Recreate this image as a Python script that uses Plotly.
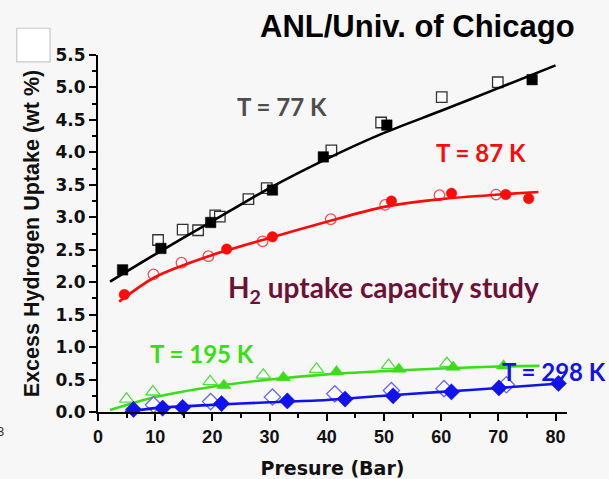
import plotly.graph_objects as go

# ---------------- data ----------------
# 77 K
p77_open = [10.5, 14.8, 17.5, 20.5, 21.3, 26.3, 29.5, 40.8, 49.5, 60.1, 69.9]
u77_open = [2.65, 2.81, 2.80, 3.03, 3.01, 3.28, 3.45, 4.03, 4.46, 4.85, 5.08]
p77_fill = [4.3, 11.0, 19.7, 30.5, 39.4, 50.5, 75.9]
u77_fill = [2.19, 2.52, 2.92, 3.42, 3.93, 4.42, 5.12]
p77_fit = [2.1, 10, 20, 30, 40, 50, 60, 70, 80]
u77_fit = [2.01, 2.43, 2.94, 3.45, 3.90, 4.30, 4.64, 4.99, 5.34]

# 87 K
p87_open = [9.7, 14.6, 19.3, 28.8, 40.7, 50.2, 59.7, 69.6]
u87_open = [2.12, 2.30, 2.40, 2.63, 2.97, 3.19, 3.34, 3.35]
p87_fill = [4.6, 22.5, 30.5, 51.3, 61.8, 71.3, 75.3]
u87_fill = [1.81, 2.51, 2.70, 3.25, 3.37, 3.35, 3.29]
p87_fit = [3.7, 10, 20, 30, 40, 50, 60, 70, 77]
u87_fit = [1.70, 2.08, 2.42, 2.68, 2.93, 3.16, 3.28, 3.35, 3.39]

# 195 K
p195_open = [5.0, 9.6, 19.6, 28.9, 38.2, 50.8, 61.0]
u195_open = [0.20, 0.31, 0.47, 0.57, 0.66, 0.72, 0.75]
p195_fill = [22.0, 32.4, 41.7, 52.6, 62.1, 70.9]
u195_fill = [0.41, 0.53, 0.62, 0.66, 0.69, 0.71]
p195_fit = [2.1, 10, 20, 30, 40, 50, 60, 70, 77.2]
u195_fit = [0.03, 0.23, 0.39, 0.50, 0.58, 0.63, 0.67, 0.70, 0.71]

# 298 K
p298_open = [9.7, 19.7, 30.5, 41.4, 51.3, 60.5, 71.4]
u298_open = [0.11, 0.16, 0.23, 0.28, 0.33, 0.36, 0.42]
p298_fill = [6.2, 11.3, 14.8, 21.6, 33.1, 43.2, 51.6, 61.8, 70.1, 80.5]
u298_fill = [0.04, 0.06, 0.07, 0.13, 0.17, 0.20, 0.25, 0.31, 0.37, 0.44]
p298_fit = [4.7, 10, 20, 30, 40, 50, 60, 70, 80.8]
u298_fit = [0.00, 0.06, 0.11, 0.15, 0.185, 0.25, 0.31, 0.37, 0.44]

x_ticks = [0, 10, 20, 30, 40, 50, 60, 70, 80]
y_ticks = [0.0, 0.5, 1.0, 1.5, 2.0, 2.5, 3.0, 3.5, 4.0, 4.5, 5.0, 5.5]

# ---------------- styles ----------------
BLACK = "#000000"
RED = "#ff0a0a"
GREEN = "#38de16"
BLUE = "#1212ee"
MAROON = "#6d1236"
BG = "#f7f7f7"

fig = go.Figure()


def add_series(px_open, u_open, px_fill, u_fill, px_fit, u_fit, color, open_border,
               open_sym, fill_sym, size):
    fig.add_trace(go.Scatter(
        x=px_open, y=u_open, mode="markers", showlegend=False, cliponaxis=False,
        marker=dict(symbol=open_sym, size=size, color="white",
                    line=dict(color=open_border, width=1.3))))
    fig.add_trace(go.Scatter(
        x=px_fit, y=u_fit, mode="lines", showlegend=False, cliponaxis=False,
        line=dict(color=color, width=2.6, shape="spline", smoothing=0.8)))
    fig.add_trace(go.Scatter(
        x=px_fill, y=u_fill, mode="markers", showlegend=False, cliponaxis=False,
        marker=dict(symbol=fill_sym, size=size, color=color,
                    line=dict(color=color, width=0.5))))


add_series(p77_open, u77_open, p77_fill, u77_fill, p77_fit, u77_fit,
           BLACK, "#333333", "square", "square", 10.5)
add_series(p87_open, u87_open, p87_fill, u87_fill, p87_fit, u87_fit,
           RED, "#ff4a4a", "circle", "circle", 10.5)
add_series(p195_open, u195_open, p195_fill, u195_fill, p195_fit, u195_fit,
           GREEN, "#55dd44", "triangle-up", "triangle-up", 12.5)
add_series(p298_open, u298_open, p298_fill, u298_fill, p298_fit, u298_fit,
           BLUE, "#6666ff", "diamond", "diamond", 12.5)

label_font = "Lato, 'Open Sans', sans-serif"
annotations = [
    dict(x=32.2, y=4.70, text="<b>T = 77 K</b>", font=dict(family=label_font, size=24, color="#4d4d4d")),
    dict(x=66.9, y=4.00, text="<b>T = 87 K</b>", font=dict(family=label_font, size=24, color=RED)),
    dict(x=50.0, y=1.90, text="<b>H<sub>2</sub> uptake capacity study</b>",
         font=dict(family=label_font, size=28, color=MAROON)),
    dict(x=18.1, y=0.90, text="<b>T = 195 K</b>", font=dict(family=label_font, size=24, color=GREEN)),
    dict(x=79.65, y=0.62, text="<b>T = 298 K</b>", font=dict(family=label_font, size=24, color=BLUE)),
]
for a in annotations:
    a.update(xref="x", yref="y", showarrow=False, xanchor="center", yanchor="middle")

annotations.append(dict(
    xref="paper", yref="paper", x=0.6805, y=1.080, xanchor="center", yanchor="middle",
    text="<b>ANL/Univ. of Chicago</b>", showarrow=False,
    font=dict(family="'Liberation Sans', Arial, sans-serif", size=31, color="black")))
annotations.append(dict(
    xref="paper", yref="paper", x=-0.2087, y=-0.056, xanchor="center", yanchor="middle",
    text="3", showarrow=False,
    font=dict(family="'Liberation Sans', Arial, sans-serif", size=13, color="#333333")))

fig.update_layout(
    width=609, height=479,
    margin=dict(l=98, r=41.5, t=55, b=67, autoexpand=False),
    paper_bgcolor=BG, plot_bgcolor=BG,
    annotations=annotations,
    shapes=[dict(type="rect", xref="paper", yref="paper",
                 x0=-0.1732, x1=-0.1022, y0=0.981, y1=1.075,
                 fillcolor="white", line=dict(color="#c8c8c8", width=1.2))],
)

fig.update_xaxes(
    range=[0, 82], showgrid=False, zeroline=False, automargin=False,
    showline=True, linecolor="black", linewidth=2,
    tickmode="array", tickvals=x_ticks, ticktext=[str(v) for v in x_ticks],
    ticks="outside", ticklen=7, tickwidth=2, tickcolor="black",
    minor=dict(ticks="outside", ticklen=4, tickwidth=1.5, dtick=5, tick0=0, tickcolor="black"),
    tickfont=dict(family="'Liberation Sans', Arial, sans-serif", size=18, color="#111111", weight="bold"),
    title=dict(text="<b>Presure (Bar)</b>", standoff=18,
               font=dict(family="'DejaVu Sans', sans-serif", size=19, color="#111111")),
)
fig.update_yaxes(
    range=[0, 5.5], showgrid=False, zeroline=False, automargin=False,
    showline=True, linecolor="black", linewidth=2,
    tickmode="array", tickvals=y_ticks, ticktext=[f"{v:.1f}" for v in y_ticks],
    ticks="outside", ticklen=7, tickwidth=2, tickcolor="black",
    minor=dict(ticks="outside", ticklen=4, tickwidth=1.5, dtick=0.25, tick0=0, tickcolor="black"),
    tickfont=dict(family="'DejaVu Sans', sans-serif", size=17, color="#111111", weight="bold"),
    title=dict(text="<b>Excess Hydrogen Uptake (wt %)</b>", standoff=10,
               font=dict(family="'Liberation Sans', Arial, sans-serif", size=21.5, color="#111111")),
)

fig.write_html("out.html")
